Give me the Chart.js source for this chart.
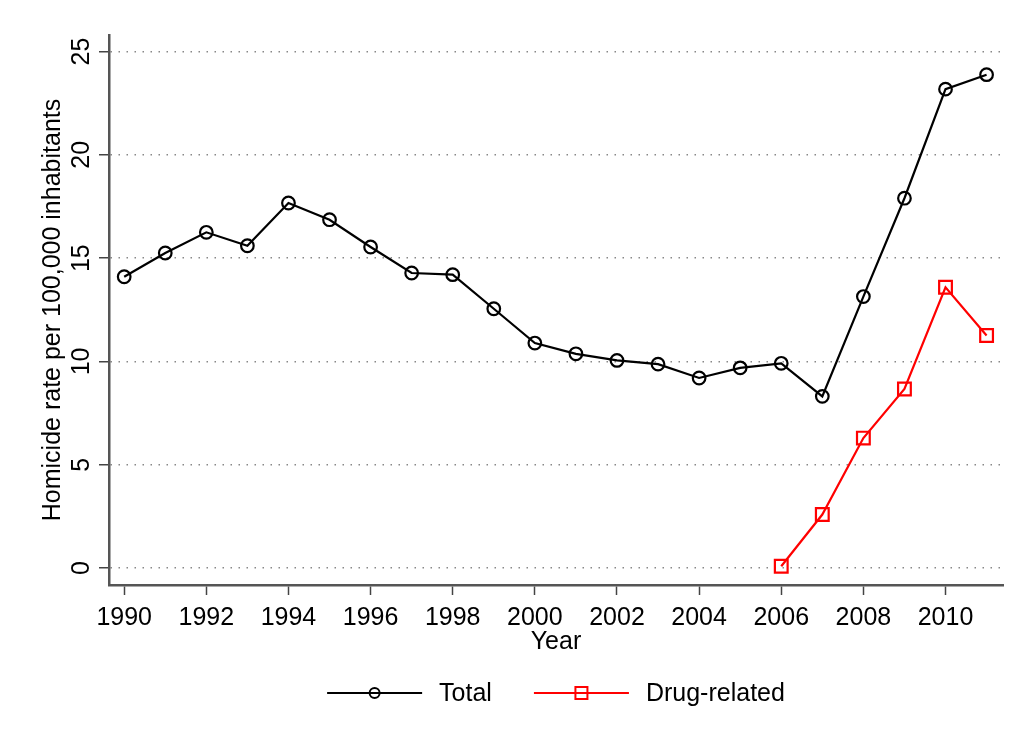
<!DOCTYPE html>
<html>
<head>
<meta charset="utf-8">
<script src="https://cdn.jsdelivr.net/npm/chart.js@4"></script>
<style>
  html, body { margin: 0; padding: 0; background: #fff; }
  #wrap { width: 1018px; height: 743px; }
</style>
</head>
<body>
<div id="wrap"><canvas id="chart" width="1018" height="743"></canvas></div>
<script>
    'use strict';

    const years = [1990, 1991, 1992, 1993, 1994, 1995, 1996, 1997, 1998, 1999, 2000,
                   2001, 2002, 2003, 2004, 2005, 2006, 2007, 2008, 2009, 2010, 2011];
    const totalRate = [14.1, 15.25, 16.25, 15.6, 17.67, 16.86, 15.54, 14.28, 14.2, 12.55, 10.89,
                       10.37, 10.05, 9.87, 9.2, 9.69, 9.91, 8.31, 13.14, 17.9, 23.18, 23.88];
    const drugYears = [2006, 2007, 2008, 2009, 2010, 2011];
    const drugRate = [0.09, 2.59, 6.29, 8.67, 13.59, 11.26];
    const xTicks = [1990, 1992, 1994, 1996, 1998, 2000, 2002, 2004, 2006, 2008, 2010];
    const yTicks = [0, 5, 10, 15, 20, 25];

    const FONT = "'Liberation Sans', Arial, Helvetica, sans-serif";
    const FS = 25;

    const toPoints = (xs, ys) => xs.map((x, i) => ({ x, y: ys[i] }));

    // y tick labels are vertical in the original, drawn here rotated
    const yLabelPlugin = {
        id: 'yLabels',
        afterDraw(chart) {
            const ys = chart.scales.y;
            const ctx = chart.ctx;
            ctx.save();
            ctx.font = FS + 'px ' + FONT;
            ctx.fillStyle = '#000';
            ctx.textAlign = 'center';
            ctx.textBaseline = 'alphabetic';
            yTicks.forEach(v => {
                ctx.save();
                ctx.translate(89, ys.getPixelForValue(v));
                ctx.rotate(-Math.PI / 2);
                ctx.fillText(String(v), 0, 0);
                ctx.restore();
            });
            ctx.restore();
        }
    };

    // legend: line sample with marker in the middle, like Stata
    const legendPlugin = {
        id: 'stataLegend',
        afterDraw(chart) {
            const ctx = chart.ctx;
            const area = chart.chartArea;
            const lineW = 95, gap = 17, between = 42, y = 693;
            ctx.save();
            ctx.font = FS + 'px ' + FONT;
            const items = chart.data.datasets.map(ds => ({ ds, w: ctx.measureText(ds.label).width }));
            let total = items.reduce((s, it) => s + lineW + gap + it.w, 0) + between * (items.length - 1);
            let x = (area.left + area.right) / 2 - total / 2;
            items.forEach(({ ds, w }) => {
                ctx.strokeStyle = ds.borderColor;
                ctx.lineWidth = 2;
                ctx.beginPath();
                ctx.moveTo(x, y);
                ctx.lineTo(x + lineW, y);
                ctx.stroke();
                const cx = x + lineW / 2;
                ctx.beginPath();
                if (ds.pointStyle === 'rect') {
                    ctx.rect(cx - 6, y - 6, 12, 12);
                } else {
                    ctx.arc(cx, y, 5, 0, Math.PI * 2);
                }
                ctx.stroke();
                ctx.fillStyle = '#000';
                ctx.textAlign = 'left';
                ctx.textBaseline = 'middle';
                ctx.fillText(ds.label, x + lineW + gap, y + 1);
                x += lineW + gap + w + between;
            });
            ctx.restore();
        }
    };

    new Chart(document.getElementById('chart'), {
        type: 'line',
        data: {
            datasets: [
                {
                    label: 'Total',
                    data: toPoints(years, totalRate),
                    borderColor: '#000',
                    borderWidth: 2.2,
                    pointStyle: 'circle',
                    pointRadius: 6.3,
                    pointBorderWidth: 2.2,
                    pointBackgroundColor: 'rgba(0,0,0,0)',
                    pointBorderColor: '#000',
                    tension: 0
                },
                {
                    label: 'Drug-related',
                    data: toPoints(drugYears, drugRate),
                    borderColor: '#ff0000',
                    borderWidth: 2.2,
                    pointStyle: 'rect',
                    pointRadius: 9,
                    pointBorderWidth: 2.2,
                    pointBackgroundColor: 'rgba(0,0,0,0)',
                    pointBorderColor: '#ff0000',
                    tension: 0
                }
            ]
        },
        options: {
            responsive: false,
            animation: false,
            layout: { padding: { top: 35, left: 0, right: 15, bottom: 88 } },
            plugins: { legend: { display: false }, tooltip: { enabled: false } },
            scales: {
                x: {
                    type: 'linear',
                    min: 1989.63,
                    max: 2011.4,
                    afterBuildTicks: s => { s.ticks = xTicks.map(v => ({ value: v })); },
                    afterFit: s => { s.height = 70; },
                    grid: { drawOnChartArea: false, drawTicks: true, tickLength: 10, tickColor: '#444', tickWidth: 1.5 },
                    border: { display: true, color: '#555', width: 2.5 },
                    ticks: { color: '#000', font: { family: FONT, size: FS }, padding: 8, maxRotation: 0, autoSkip: false,
                             callback: v => String(v) },
                    title: { display: true, text: 'Year', color: '#000', font: { family: FONT, size: FS }, padding: { top: 0, bottom: -2 } }
                },
                y: {
                    min: -0.82,
                    max: 25.8,
                    afterBuildTicks: s => { s.ticks = yTicks.map(v => ({ value: v })); },
                    afterFit: s => { s.width = 109; },
                    grid: { color: '#888', lineWidth: 1.5, drawTicks: true, tickLength: 10, tickColor: '#444', tickWidth: 1.5,
                            tickBorderDash: [] },
                    border: { display: true, color: '#555', width: 2.5, dash: [1.5, 6.5] },
                    ticks: { display: false },
                    title: { display: true, text: 'Homicide rate per 100,000 inhabitants', color: '#000',
                             font: { family: FONT, size: FS }, padding: { top: 38, bottom: 0 } }
                }
            }
        },
        plugins: [yLabelPlugin, legendPlugin]
    });
</script>
</body>
</html>
